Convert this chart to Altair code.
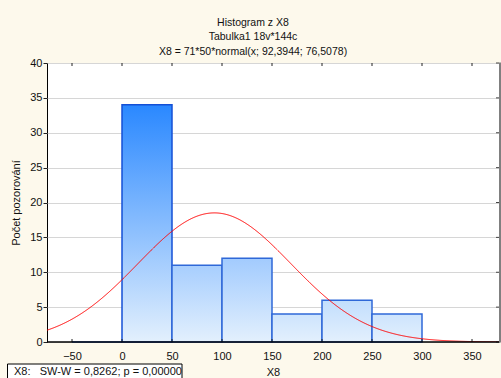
import altair as alt
import pandas as pd

# Histogram bins of X8 and observed counts
bin_start = [-50, 0, 50, 100, 150, 200, 250]
bin_end = [0, 50, 100, 150, 200, 250, 300]
counts = [0, 34, 11, 12, 4, 6, 4]

# Fitted normal curve parameters: X8 = 71*50*normal(x; 92,3944; 76,5078)
n_obs = 71
bin_width = 50
mean = 92.3944
sd = 76.5078

x_ticks = [-50, 0, 50, 100, 150, 200, 250, 300, 350]
y_ticks = [0, 5, 10, 15, 20, 25, 30, 35, 40]
x_domain = [-75, 377]
y_domain = [0, 40]

title_lines = ["Histogram z X8", "Tabulka1 18v*144c",
               "X8 = 71*50*normal(x; 92,3944; 76,5078)"]
stat_text = "X8:\u00a0\u00a0\u00a0SW-W = 0,8262; p = 0,00000"

FONT = "Liberation Sans"
W, H = 452, 279

LIGHT = (227, 240, 253)
DARK = (42, 136, 255)


def shade(value, vmax=34.0):
    t = max(0.0, min(1.0, value / vmax))
    r, g, b = (round(l + (d - l) * t) for l, d in zip(LIGHT, DARK))
    return f"#{r:02x}{g:02x}{b:02x}"


xs = alt.Scale(domain=x_domain, nice=False, zero=False)
ys = alt.Scale(domain=y_domain, nice=False, zero=False)

x_axis = alt.Axis(values=x_ticks, ticks=False, grid=False,
                  labelPadding=8, titlePadding=5, domain=False)
y_axis = alt.Axis(values=y_ticks, tickSize=4, tickColor="#222",
                  labelPadding=1, titlePadding=8,
                  grid=True, gridColor="#d6d6d6", domain=False)


def X(field):
    return alt.X(field, type="quantitative", scale=xs, title="X8", axis=x_axis)


def Y(field):
    return alt.Y(field, type="quantitative", scale=ys,
                 title="Počet pozorování", axis=y_axis)


bars = pd.DataFrame({"x0": bin_start, "x1": bin_end, "count": counts})

bar_layers = []
for _, row in bars.iterrows():
    grad = alt.Gradient(
        gradient="linear",
        stops=[alt.GradientStop(offset=0, color=shade(row["count"])),
               alt.GradientStop(offset=1, color=shade(0))],
        x1=0, x2=0, y1=0, y2=1,
    )
    stroke = "#1450d6" if row["count"] > 30 else "#2f68d8"
    bar_layers.append(
        alt.Chart(pd.DataFrame([row]))
        .mark_rect(fill=grad, stroke=stroke, strokeWidth=1.5)
        .encode(x=X("x0"), x2="x1:Q", y=Y("count"), y2=alt.datum(0))
    )

curve = (
    alt.Chart(alt.sequence(x_domain[0], x_domain[1] + 0.5, 0.5, as_="x"))
    .transform_calculate(
        fit=f"{n_obs * bin_width}*densityNormal(datum.x, {mean}, {sd})")
    .mark_line(color="#ff0000", strokeWidth=1, clip=True)
    .encode(x=X("x"), y=Y("fit"))
)

xt = pd.DataFrame({"t": x_ticks})
yt = pd.DataFrame({"t": y_ticks})
one = pd.DataFrame({"t": [0]})
top_ticks = alt.Chart(xt).mark_rule(color="#222", strokeWidth=1).encode(
    x=X("t"), y=alt.value(0), y2=alt.value(3))
bottom_ticks = alt.Chart(xt).mark_rule(color="#222", strokeWidth=1).encode(
    x=X("t"), y=alt.value(H), y2=alt.value(H - 3))
right_ticks = alt.Chart(yt).mark_rule(color="#444", strokeWidth=1).encode(
    y=Y("t"), x=alt.value(W - 3), x2=alt.value(W))

right_edge = alt.Chart(one).mark_rule(color="#808080", strokeWidth=3).encode(
    x=alt.value(W + 1.5), y=alt.value(-0.5), y2=alt.value(H + 0.5))
bottom_edge = alt.Chart(one).mark_rule(color="#000", strokeWidth=1.5).encode(
    x=alt.value(0), x2=alt.value(W), y=alt.value(H))

stat_box = alt.Chart(one).mark_rect(
    fill="white", stroke="black", strokeWidth=1, clip=False).encode(
    x=alt.value(-39.5), x2=alt.value(135), y=alt.value(301), y2=alt.value(322))
stat_label = alt.Chart(pd.DataFrame({"s": [stat_text]})).mark_text(
    align="left", baseline="alphabetic", font=FONT, fontSize=11,
    color="#111").encode(x=alt.value(-33), y=alt.value(311.5), text="s:N")

chart = (
    alt.layer(*bar_layers, curve, top_ticks, bottom_ticks, right_ticks,
              bottom_edge, right_edge, stat_box, stat_label)
    .properties(
        width=W, height=H,
        title=alt.TitleParams(text=title_lines, anchor="middle", dx=-20,
                              fontSize=10.5, fontWeight="normal", font=FONT,
                              lineHeight=14.5, offset=0, color="#111"),
        autosize=alt.AutoSizeParams(type="none"),
        padding={"left": 47, "top": 63, "right": 2, "bottom": 36},
        background="#fdf9ec",
    )
    .configure_view(stroke="black", strokeWidth=1, fill="white")
    .configure_axis(labelFont=FONT, titleFont=FONT, labelFontSize=11,
                    titleFontSize=11, titleFontWeight="normal",
                    labelColor="#111", titleColor="#111")
)

chart.save("out.html", embed_options={"renderer": "svg", "actions": False})
